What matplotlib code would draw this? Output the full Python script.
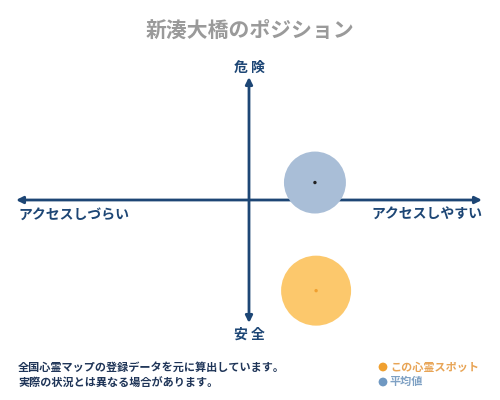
import matplotlib
matplotlib.use("Agg")
import matplotlib.pyplot as plt

plt.rcParams['font.family'] = ['Noto Sans CJK JP', 'DejaVu Sans']

title = "新湊大橋のポジション"
label_top = "危 険"
label_bottom = "安 全"
label_left = "アクセスしづらい"
label_right = "アクセスしやすい"
note_lines = ["全国心霊マップの登録データを元に算出しています。",
              "実際の状況とは異なる場合があります。"]
series_names = ["この心霊スポット", "平均値"]

# positions on access (x) / danger (y) scales, -1 .. 1
access = [0.288, 0.283]
danger = [-0.737, 0.142]
bubble_sizes = [2540, 1990]

fill_colors = ["#fcc86c", "#a9bed7"]
dot_colors = ["#f0a030", "#222222"]
legend_dot_colors = ["#f0a030", "#6f98c2"]
text_colors = ["#e8a455", "#7fa1c4"]
axis_color = "#1d4675"
note_color = "#1f3558"

W, H = 500, 400
fig = plt.figure(figsize=(5, 4), dpi=100)
fig.patch.set_facecolor("white")

bg = fig.add_axes([0, 0, 1, 1])
bg.set_xlim(0, W)
bg.set_ylim(H, 0)
bg.axis("off")

x0, x1 = 16, 482
y0, y1 = 77, 323
ax = fig.add_axes([x0 / W, 1 - y1 / H, (x1 - x0) / W, (y1 - y0) / H])
ax.set_xlim(-1, 1)
ax.set_ylim(-1, 1)
ax.axis("off")
ax.patch.set_alpha(0)

arrow_kw = dict(arrowstyle="<|-|>", color=axis_color, lw=2,
                mutation_scale=10, shrinkA=0, shrinkB=0)
ax.annotate("", xy=(-1, 0), xytext=(1, 0), arrowprops=arrow_kw)
ax.annotate("", xy=(0, 1), xytext=(0, -1), arrowprops=arrow_kw)

for i in range(len(access)):
    ax.scatter(access[i], danger[i], s=bubble_sizes[i], color=fill_colors[i],
               edgecolors="none", zorder=3, clip_on=False)
    ax.scatter(access[i], danger[i], s=6, color=dot_colors[i],
               edgecolors="none", zorder=4, clip_on=False)

bg.text(250, 30, title, ha="center", va="center", fontsize=15,
        color="#9a9a9a", fontweight="bold")
bg.text(249, 68, label_top, ha="center", va="center", fontsize=10,
        color=axis_color, fontweight="bold")
bg.text(249, 335, label_bottom, ha="center", va="center", fontsize=10,
        color=axis_color, fontweight="bold")
bg.text(18, 215, label_left, ha="left", va="center", fontsize=10,
        color=axis_color, fontweight="bold")
bg.text(482, 215, label_right, ha="right", va="center", fontsize=10,
        color=axis_color, fontweight="bold")

for k, line in enumerate(note_lines):
    bg.text(18, 367 + 16 * k, line, ha="left", va="center", fontsize=8,
            color=note_color, fontweight="bold")

for k, name in enumerate(series_names):
    yy = 367 + 15 * k
    bg.scatter(383, yy, s=40, color=legend_dot_colors[k], edgecolors="none")
    bg.text(390, yy, name, ha="left", va="center", fontsize=8,
            color=text_colors[k], fontweight="bold")

fig.savefig("out.png", dpi=100, facecolor="white")
